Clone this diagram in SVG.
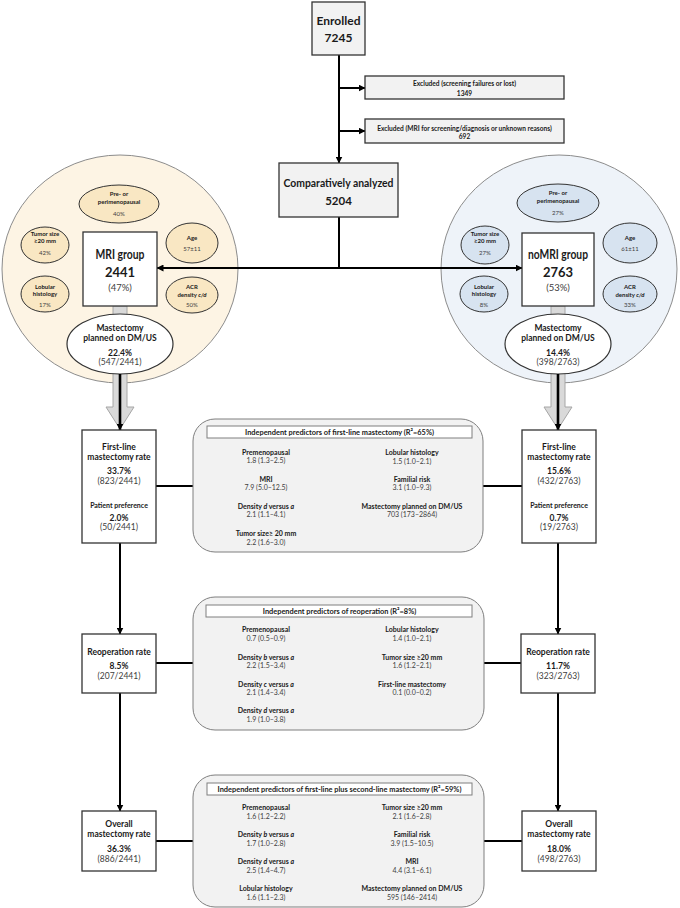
<svg xmlns="http://www.w3.org/2000/svg" width="680" height="908" viewBox="0 0 680 908">
<defs>
<marker id="ah" markerWidth="7" markerHeight="7" refX="6.5" refY="3.5" orient="auto" markerUnits="userSpaceOnUse"><path d="M0,0 L7,3.5 L0,7 z" fill="#000"/></marker>
<style>
text{font-family:Lato,"Liberation Sans",sans-serif;text-anchor:middle;fill:#1a1a1a}
.b{font-weight:bold}
.n{font-weight:normal;fill:#404040}
.i{font-style:italic}
.box{fill:#fff;stroke:#333;stroke-width:1.3}
.gbox{fill:#f2f2f2;stroke:#333;stroke-width:1.3}
.pbox{fill:#f2f2f2;stroke:#7f7f7f;stroke-width:1}
.tbox{fill:#fff;stroke:#7f7f7f;stroke-width:1}
.c{stroke:#000;stroke-width:2;fill:none}
.bigL{fill:#fdf4e4;stroke:#8c8c8c;stroke-width:1}
.bigR{fill:#eef3f9;stroke:#8c8c8c;stroke-width:1}
.smL{fill:#f9e7c3;stroke:#333;stroke-width:1}
.smR{fill:#d7e3f0;stroke:#333;stroke-width:1}
.el{fill:#fff;stroke:#333;stroke-width:1.2}
.blk{fill:#d9d9d9;stroke:#a6a6a6;stroke-width:1}
.s6{font-size:6px}
.s65{font-size:6.6px}
.s7{font-size:7px}
.s75{font-size:7.4px}
.s85{font-size:8.5px}
.s95{font-size:9.5px}
.s12{font-size:12px}
.s13{font-size:13px}
</style>
</defs>

<!-- big circles -->
<ellipse id="mri-circle" class="bigL" cx="120" cy="269" rx="118" ry="114"/>
<ellipse id="nomri-circle" class="bigR" cx="559" cy="269" rx="118" ry="114"/>

<g id="connectors">
<line class="c" x1="339" y1="55" x2="339" y2="163" marker-end="url(#ah)"/>
<line class="c" x1="339" y1="88" x2="365" y2="88" marker-end="url(#ah)"/>
<line class="c" x1="339" y1="131" x2="365" y2="131" marker-end="url(#ah)"/>
<line class="c" x1="339" y1="217" x2="339" y2="268"/>
<line class="c" x1="339" y1="268" x2="157" y2="268" marker-end="url(#ah)"/>
<line class="c" x1="339" y1="268" x2="522" y2="268" marker-end="url(#ah)"/>
<line class="c" x1="156" y1="486" x2="193" y2="486"/>
<line class="c" x1="483" y1="486" x2="522" y2="486"/>
<line class="c" x1="120" y1="543" x2="120" y2="634" marker-end="url(#ah)"/>
<line class="c" x1="558" y1="543" x2="558" y2="634" marker-end="url(#ah)"/>
<line class="c" x1="156" y1="663" x2="193" y2="663"/>
<line class="c" x1="484" y1="663" x2="521" y2="663"/>
<line class="c" x1="120" y1="693" x2="120" y2="811" marker-end="url(#ah)"/>
<line class="c" x1="558" y1="693" x2="558" y2="811" marker-end="url(#ah)"/>
<line class="c" x1="156" y1="841" x2="193" y2="841"/>
<line class="c" x1="484" y1="841" x2="522" y2="841"/>
</g>

<!-- block arrows -->
<g id="block-arrow-left">
<polygon class="blk" points="113,306 127,306 127,407 134,407 120,429 106,407 113,407"/>
</g>
<g id="block-arrow-right">
<polygon class="blk" points="551,306 565,306 565,407 572,407 558,429 544,407 551,407"/>
</g>

<g id="enrolled">
<rect class="gbox" x="312" y="2" width="53" height="53"/>
<text class="b s12" x="338.5" y="25">Enrolled</text>
<text class="b s12" x="338.5" y="42">7245</text>
</g>

<g id="excluded1">
<rect class="gbox" x="365" y="76" width="199" height="23"/>
<text class="b s65" x="464.5" y="85.5">Excluded (screening failures or lost)</text>
<text class="b s65" x="464.5" y="95.5">1349</text>
</g>

<g id="excluded2">
<rect class="gbox" x="365" y="119" width="199" height="24"/>
<text class="b s65" x="464.5" y="130.5">Excluded (MRI for screening/diagnosis or unknown reasons)</text>
<text class="b s65" x="464.5" y="139">692</text>
</g>

<g id="analyzed">
<rect class="gbox" x="279" y="163" width="119" height="54"/>
<text class="b" style="font-size:11.5px" x="338.5" y="187" textLength="110" lengthAdjust="spacingAndGlyphs">Comparatively analyzed</text>
<text class="b" style="font-size:11.5px" x="338.5" y="205">5204</text>
</g>

<!-- MRI group circle contents -->
<g id="mri-pre">
<ellipse class="smL" cx="119" cy="204" rx="40" ry="19"/>
<text class="b s6" x="119" y="196">Pre- or</text>
<text class="b s6" x="119" y="204">perimenopausal</text>
<text class="n s6" x="119" y="216">40%</text>
</g>
<g id="mri-tumor">
<ellipse class="smL" cx="45" cy="245" rx="24" ry="18"/>
<text class="b s6" x="45" y="236">Tumor size</text>
<text class="b s6" x="45" y="243">≥20 mm</text>
<text class="n s6" x="45" y="255">42%</text>
</g>
<g id="mri-age">
<ellipse class="smL" cx="192" cy="243" rx="26" ry="20"/>
<text class="b s6" x="192" y="240">Age</text>
<text class="n s6" x="192" y="251">57±11</text>
</g>
<g id="mri-lobular">
<ellipse class="smL" cx="45" cy="294" rx="24" ry="18"/>
<text class="b s6" x="45" y="289">Lobular</text>
<text class="b s6" x="45" y="296">histology</text>
<text class="n s6" x="45" y="307">17%</text>
</g>
<g id="mri-acr">
<ellipse class="smL" cx="192" cy="295" rx="26" ry="18"/>
<text class="b s6" x="192" y="289">ACR</text>
<text class="b s6" x="192" y="297">density <tspan class="i">c/d</tspan></text>
<text class="n s6" x="192" y="307">50%</text>
</g>
<g id="mri-group">
<rect class="box" x="83" y="232" width="74" height="74"/>
<text class="b s13" x="120" y="258.5" textLength="49" lengthAdjust="spacingAndGlyphs">MRI group</text>
<text class="b s13" x="120" y="276.5">2441</text>
<text class="n s95" x="120" y="290.5">(47%)</text>
</g>
<g id="mri-planned">
<ellipse class="el" cx="120" cy="344" rx="53" ry="30"/>
<text class="b s85" x="120" y="331">Mastectomy</text>
<text class="b s85" x="120" y="341">planned on DM/US</text>
<text class="b s85" x="120" y="356">22.4%</text>
<text class="n s85" x="120" y="365">(547/2441)</text>
</g>

<!-- noMRI group circle contents -->
<g id="nomri-pre">
<ellipse class="smR" cx="558" cy="203" rx="41" ry="19"/>
<text class="b s6" x="558" y="195">Pre- or</text>
<text class="b s6" x="558" y="203">perimenopausal</text>
<text class="n s6" x="558" y="215">27%</text>
</g>
<g id="nomri-tumor">
<ellipse class="smR" cx="485" cy="245" rx="24" ry="19"/>
<text class="b s6" x="485" y="236">Tumor size</text>
<text class="b s6" x="485" y="243">≥20 mm</text>
<text class="n s6" x="485" y="255">27%</text>
</g>
<g id="nomri-age">
<ellipse class="smR" cx="630" cy="243" rx="27" ry="20"/>
<text class="b s6" x="630" y="240">Age</text>
<text class="n s6" x="630" y="251">61±11</text>
</g>
<g id="nomri-lobular">
<ellipse class="smR" cx="484" cy="294" rx="24" ry="18"/>
<text class="b s6" x="484" y="289">Lobular</text>
<text class="b s6" x="484" y="296">histology</text>
<text class="n s6" x="484" y="307">8%</text>
</g>
<g id="nomri-acr">
<ellipse class="smR" cx="630" cy="294" rx="27" ry="18"/>
<text class="b s6" x="630" y="289">ACR</text>
<text class="b s6" x="630" y="297">density <tspan class="i">c/d</tspan></text>
<text class="n s6" x="630" y="307">33%</text>
</g>
<g id="nomri-group">
<rect class="box" x="522" y="233" width="72" height="73"/>
<text class="b s13" x="558" y="258.5" textLength="60" lengthAdjust="spacingAndGlyphs">noMRI group</text>
<text class="b s13" x="558" y="276.5">2763</text>
<text class="n s95" x="558" y="290.5">(53%)</text>
</g>
<g id="nomri-planned">
<ellipse class="el" cx="558" cy="344" rx="53" ry="30"/>
<text class="b s85" x="558" y="331">Mastectomy</text>
<text class="b s85" x="558" y="341">planned on DM/US</text>
<text class="b s85" x="558" y="356">14.4%</text>
<text class="n s85" x="558" y="365">(398/2763)</text>
</g>

<!-- black arrows through block arrows -->
<g id="connectors-black">
<line class="c" style="stroke-width:2.6" x1="120" y1="374" x2="120" y2="430" marker-end="url(#ah)"/>
<line class="c" style="stroke-width:2.6" x1="558" y1="374" x2="558" y2="430" marker-end="url(#ah)"/>
</g>

<!-- first-line boxes -->
<g id="firstline-mri">
<rect class="box" x="82" y="430" width="74" height="113"/>
<text class="b s85" x="119" y="450">First-line</text>
<text class="b s85" x="119" y="460">mastectomy rate</text>
<text class="b s85" x="119" y="474">33.7%</text>
<text class="n s85" x="119" y="484">(823/2441)</text>
<text class="b s7" x="119" y="507.5">Patient preference</text>
<text class="b s85" x="119" y="521">2.0%</text>
<text class="n s85" x="119" y="530">(50/2441)</text>
</g>
<g id="firstline-nomri">
<rect class="box" x="522" y="430" width="74" height="113"/>
<text class="b s85" x="559" y="450">First-line</text>
<text class="b s85" x="559" y="460">mastectomy rate</text>
<text class="b s85" x="559" y="474">15.6%</text>
<text class="n s85" x="559" y="484">(432/2763)</text>
<text class="b s7" x="559" y="507.5">Patient preference</text>
<text class="b s85" x="559" y="521">0.7%</text>
<text class="n s85" x="559" y="530">(19/2763)</text>
</g>

<g id="predictors-firstline">
<rect class="pbox" x="193" y="419" width="290" height="133" rx="22"/>
<rect class="tbox" x="207" y="426" width="265" height="12"/>
<text class="b s75" x="339.5" y="434.8">Independent predictors of first-line mastectomy (R²=65%)</text>
<text class="b s7" x="266" y="454.5">Premenopausal</text>
<text class="n s7" x="266" y="462.5">1.8 (1.3–2.5)</text>
<text class="b s7" x="266" y="481.5">MRI</text>
<text class="n s7" x="266" y="489.5">7.9 (5.0–12.5)</text>
<text class="b s7" x="266" y="508.5">Density <tspan class="i">d</tspan> versus <tspan class="i">a</tspan></text>
<text class="n s7" x="266" y="516.5">2.1 (1.1–4.1)</text>
<text class="b s7" x="266" y="535.5">Tumor size≥ 20 mm</text>
<text class="n s7" x="266" y="544.5">2.2 (1.6–3.0)</text>
<text class="b s7" x="412" y="454.5">Lobular histology</text>
<text class="n s7" x="412" y="463.5">1.5 (1.0–2.1)</text>
<text class="b s7" x="412" y="481.5">Familial risk</text>
<text class="n s7" x="412" y="489.5">3.1 (1.0–9.3)</text>
<text class="b s7" x="412" y="508.5">Mastectomy planned on DM/US</text>
<text class="n s7" x="412" y="516.5">703 (173–2864)</text>
</g>

<!-- reoperation boxes -->
<g id="reop-mri">
<rect class="box" x="82" y="634" width="74" height="59"/>
<text class="b s85" x="119" y="655">Reoperation rate</text>
<text class="b s85" x="119" y="669">8.5%</text>
<text class="n s85" x="119" y="679">(207/2441)</text>
</g>
<g id="reop-nomri">
<rect class="box" x="521" y="634" width="74" height="59"/>
<text class="b s85" x="558" y="655">Reoperation rate</text>
<text class="b s85" x="558" y="669">11.7%</text>
<text class="n s85" x="558" y="679">(323/2763)</text>
</g>

<g id="predictors-reop">
<rect class="pbox" x="193" y="597" width="291" height="133" rx="22"/>
<rect class="tbox" x="206" y="605" width="266" height="12"/>
<text class="b s75" x="339.5" y="613.8">Independent predictors of reoperation (R²=8%)</text>
<text class="b s7" x="266" y="631.5">Premenopausal</text>
<text class="n s7" x="266" y="640.5">0.7 (0.5–0.9)</text>
<text class="b s7" x="266" y="659.5">Density <tspan class="i">b</tspan> versus <tspan class="i">a</tspan></text>
<text class="n s7" x="266" y="667.5">2.2 (1.5–3.4)</text>
<text class="b s7" x="266" y="686.5">Density <tspan class="i">c</tspan> versus <tspan class="i">a</tspan></text>
<text class="n s7" x="266" y="694.5">2.1 (1.4–3.4)</text>
<text class="b s7" x="266" y="712.5">Density <tspan class="i">d</tspan> versus <tspan class="i">a</tspan></text>
<text class="n s7" x="266" y="721.5">1.9 (1.0–3.8)</text>
<text class="b s7" x="412" y="631.5">Lobular histology</text>
<text class="n s7" x="412" y="640.5">1.4 (1.0–2.1)</text>
<text class="b s7" x="412" y="659.5">Tumor size ≥20 mm</text>
<text class="n s7" x="412" y="667.5">1.6 (1.2–2.1)</text>
<text class="b s7" x="412" y="686.5">First-line mastectomy</text>
<text class="n s7" x="412" y="694.5">0.1 (0.0–0.2)</text>
</g>

<!-- overall boxes -->
<g id="overall-mri">
<rect class="box" x="82" y="811" width="74" height="60"/>
<text class="b s85" x="119" y="827">Overall</text>
<text class="b s85" x="119" y="837">mastectomy rate</text>
<text class="b s85" x="119" y="852">36.3%</text>
<text class="n s85" x="119" y="862">(886/2441)</text>
</g>
<g id="overall-nomri">
<rect class="box" x="522" y="811" width="74" height="60"/>
<text class="b s85" x="559" y="827">Overall</text>
<text class="b s85" x="559" y="837">mastectomy rate</text>
<text class="b s85" x="559" y="852">18.0%</text>
<text class="n s85" x="559" y="862">(498/2763)</text>
</g>

<g id="predictors-overall">
<rect class="pbox" x="193" y="775" width="291" height="132" rx="22"/>
<rect class="tbox" x="207" y="783" width="265" height="12"/>
<text class="b s75" x="339.5" y="791.8">Independent predictors of first-line plus second-line mastectomy (R²=59%)</text>
<text class="b s7" x="266" y="809.5">Premenopausal</text>
<text class="n s7" x="266" y="818.5">1.6 (1.2–2.2)</text>
<text class="b s7" x="266" y="836.5">Density <tspan class="i">b</tspan> versus <tspan class="i">a</tspan></text>
<text class="n s7" x="266" y="845.5">1.7 (1.0–2.8)</text>
<text class="b s7" x="266" y="863.5">Density <tspan class="i">d</tspan> versus <tspan class="i">a</tspan></text>
<text class="n s7" x="266" y="872.5">2.5 (1.4–4.7)</text>
<text class="b s7" x="266" y="890.5">Lobular histology</text>
<text class="n s7" x="266" y="899.5">1.6 (1.1–2.3)</text>
<text class="b s7" x="412" y="809.5">Tumor size ≥20 mm</text>
<text class="n s7" x="412" y="818.5">2.1 (1.6–2.8)</text>
<text class="b s7" x="412" y="836.5">Familial risk</text>
<text class="n s7" x="412" y="845.5">3.9 (1.5–10.5)</text>
<text class="b s7" x="412" y="863.5">MRI</text>
<text class="n s7" x="412" y="872.5">4.4 (3.1–6.1)</text>
<text class="b s7" x="412" y="890.5">Mastectomy planned on DM/US</text>
<text class="n s7" x="412" y="899.5">595 (146–2414)</text>
</g>
</svg>
